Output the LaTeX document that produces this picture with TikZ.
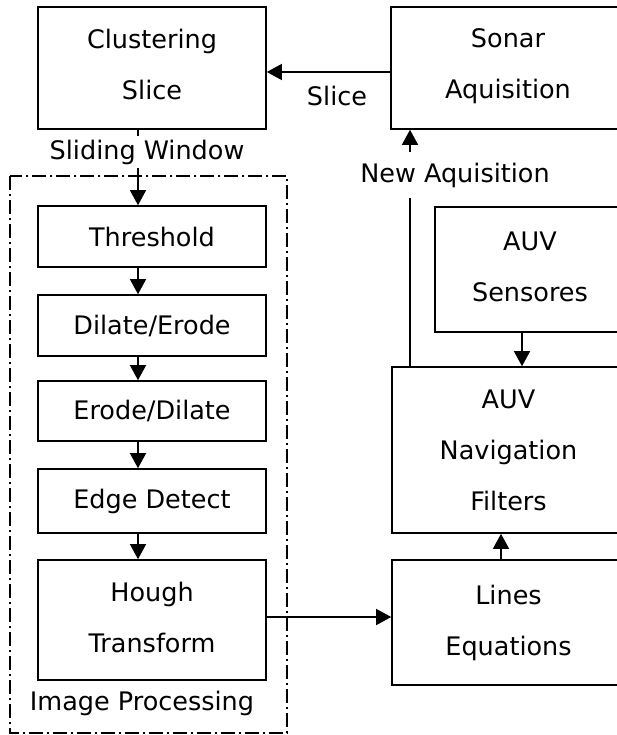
\documentclass[tikz,border=0pt]{standalone}
\usepackage{fontspec}
\setmainfont{DejaVu Sans}
\usetikzlibrary{arrows.meta, positioning}
\tikzstyle{arrow} = [line width=1.4pt, -{Triangle[length=15pt, width=16pt]}]
\tikzstyle{block} = [rectangle, draw=black, line width=1.6pt, text centered, align=center, inner sep=0pt]
\tikzstyle{group} = [draw=black, line width=1.1pt, dash pattern=on 14pt off 4pt on 2pt off 4pt]
\tikzstyle{tag} = [fill=white, inner xsep=2pt]

\begin{document}
\begin{tikzpicture}[x=1pt, y=-1pt, font=\fontsize{25.5}{51}\selectfont]
\useasboundingbox (0,0) rectangle (617,735);
\clip (0,0) rectangle (617,735);

% Image Processing group
\draw [group] (10,176) rectangle (287,733);
\node (improc) at (142,703) {Image Processing};

% Left column
\node (clust) [block, minimum width=228pt, minimum height=122pt, text depth=8pt] at (152,68) {Clustering\\Slice};
\node (thresh) [block, minimum width=228pt, minimum height=61pt] at (152,236.5) {Threshold};
\node (dilate) [block, minimum width=228pt, minimum height=61pt] at (152,325.5) {Dilate/Erode};
\node (erode) [block, minimum width=228pt, minimum height=60pt] at (152,411) {Erode/Dilate};
\node (edge) [block, minimum width=228pt, minimum height=64pt] at (152,501) {Edge Detect};
\node (hough) [block, minimum width=228pt, minimum height=120pt, text depth=6pt] at (152,620) {Hough\\Transform};

% Right column
\node (sonar) [block, minimum width=234pt, minimum height=122pt, text depth=8pt] at (508,68) {Sonar\\Aquisition};
\node (sensor) [block, minimum width=190pt, minimum height=125pt, text depth=6pt] at (530,269.5) {AUV\\Sensores};
\node (nav) [block, minimum width=233pt, minimum height=166pt] at (508.5,450) {AUV\\Navigation\\Filters};
\node (lines) [block, minimum width=233pt, minimum height=125pt] at (508.5,622.5) {Lines\\Equations};

% Arrow columns and rows
\coordinate (colx) at (138,0);
\coordinate (upx) at (410,0);
\coordinate (sensx) at (522,0);
\coordinate (linx) at (501,0);
\coordinate (slicey) at (0,72);
\coordinate (houghy) at (0,617);

% Connections
\draw [arrow] (sonar.west |- slicey) -- (clust.east |- slicey);
\node (slicelbl) at (337,96) {Slice};
\draw [arrow] (clust.south -| colx) -- (thresh.north -| colx);
\node (slidwin) [tag, inner ysep=3.5pt] at (147,152) {Sliding Window};
\draw [arrow] (thresh.south -| colx) -- (dilate.north -| colx);
\draw [arrow] (dilate.south -| colx) -- (erode.north -| colx);
\draw [arrow] (erode.south -| colx) -- (edge.north -| colx);
\draw [arrow] (edge.south -| colx) -- (hough.north -| colx);
\draw [arrow] (hough.east |- houghy) -- (lines.west |- houghy);
\draw [arrow] (lines.north -| linx) -- (nav.south -| linx);
\draw [arrow] (sensor.south -| sensx) -- (nav.north -| sensx);
\draw [arrow] (nav.north -| upx) -- (sonar.south -| upx);
\node (newacq) [tag, inner ysep=11pt] at (455,175) {New Aquisition};

\end{tikzpicture}
\end{document}
